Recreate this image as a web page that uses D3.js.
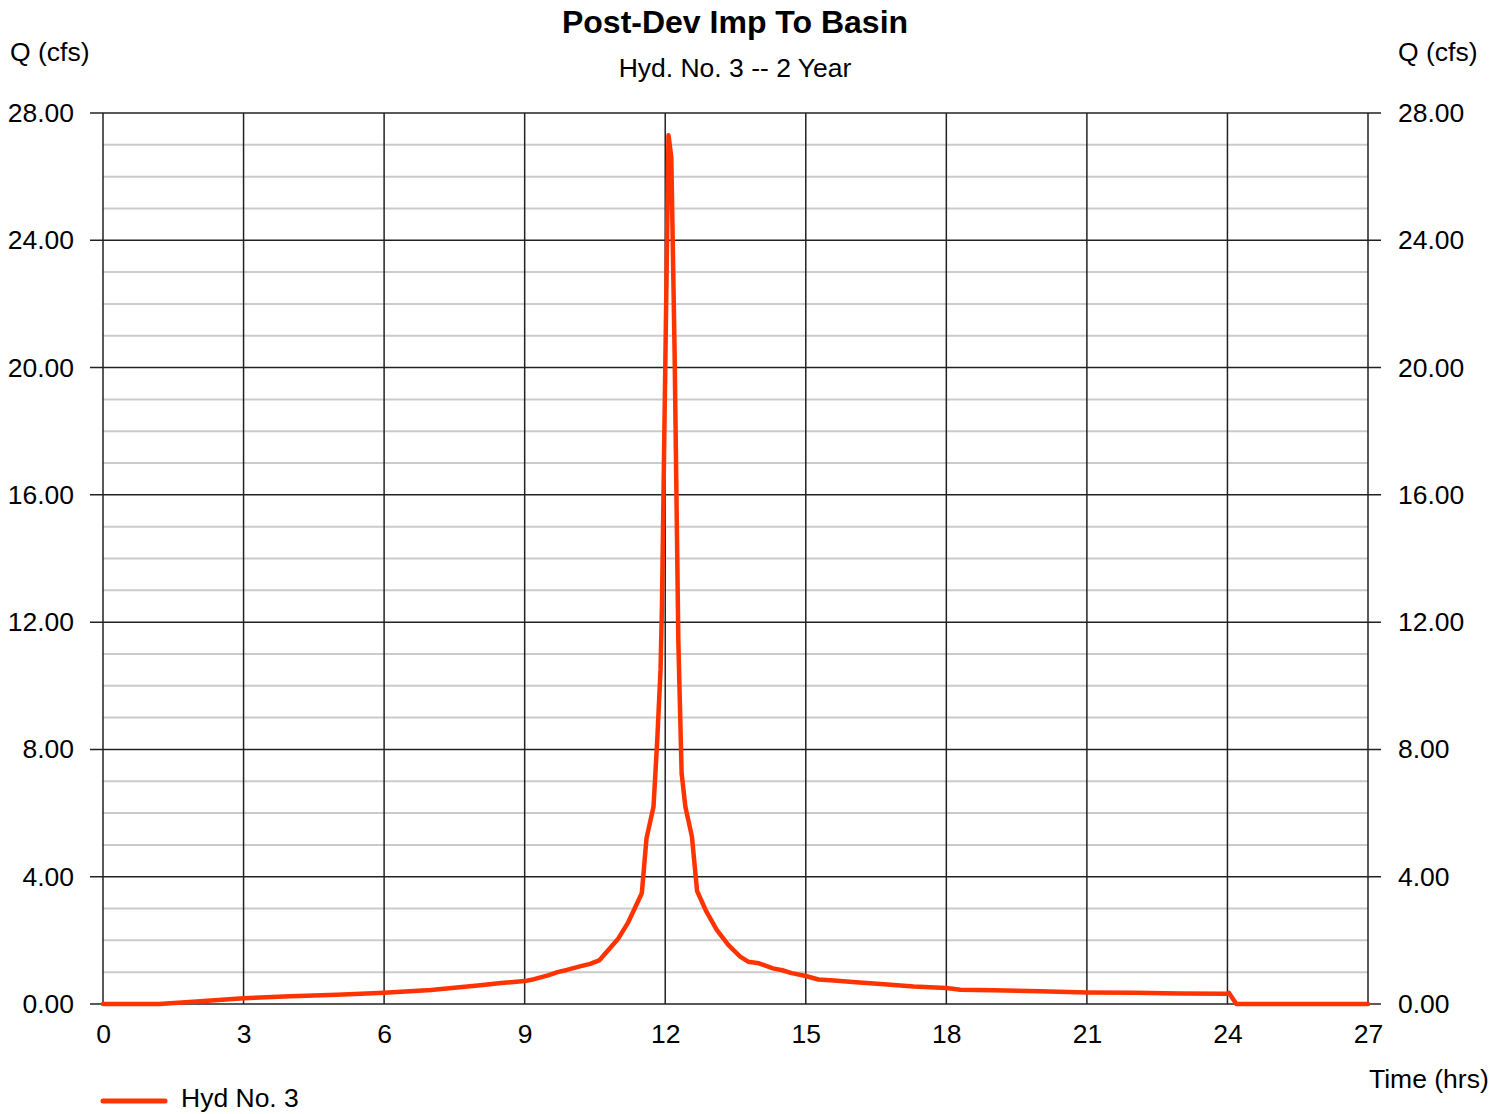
<!DOCTYPE html>
<html>
<head>
<meta charset="utf-8">
<script src="https://cdn.jsdelivr.net/npm/d3@7"></script>
<style>
  html, body { margin: 0; padding: 0; background: #fff; }
  svg { display: block; font-family: "Liberation Sans", Arial, sans-serif; }
</style>
</head>
<body>
<svg id="chart" width="1504" height="1114"></svg>
<script>
// Hydrograph ordinates: time (hrs) and discharge Q (cfs)
const times = [0, 1.2, 2, 3, 4, 5, 6, 7, 8, 8.5, 9, 9.2, 9.5, 9.7, 9.9, 10.2, 10.4, 10.6,
  11.0, 11.2, 11.5, 11.6, 11.75, 11.83, 11.9, 11.93, 12.07, 12.13, 12.2, 12.28, 12.35, 12.43,
  12.57, 12.68, 12.88, 13.1, 13.35, 13.6, 13.77, 14.0, 14.3, 14.5, 14.7, 15.0, 15.27, 15.6,
  16.0, 16.6, 17.3, 18.0, 18.3, 19, 20, 21, 22, 23, 23.98, 24.03, 24.19, 27];
const flows = [0, 0, 0.08, 0.18, 0.24, 0.29, 0.35, 0.44, 0.58, 0.66, 0.72, 0.78, 0.90, 1.00, 1.07, 1.19, 1.26, 1.38,
  2.06, 2.54, 3.48, 5.2, 6.2, 8.3, 10.5, 12.5, 27.3, 26.6, 20.5, 11.4, 7.25, 6.2,
  5.26, 3.55, 2.9, 2.33, 1.85, 1.49, 1.33, 1.28, 1.12, 1.06, 0.97, 0.88, 0.77, 0.74,
  0.69, 0.63, 0.55, 0.50, 0.45, 0.43, 0.40, 0.36, 0.35, 0.33, 0.32, 0.35, 0, 0];

const xTicks = [0, 3, 6, 9, 12, 15, 18, 21, 24, 27];
const yMajorTicks = [0, 4, 8, 12, 16, 20, 24, 28];
const yMinorTicks = d3.range(0, 29);

const titleText = "Post-Dev Imp To Basin";
const subtitleText = "Hyd. No. 3 -- 2 Year";
const yLabel = "Q (cfs)";
const xLabel = "Time (hrs)";
const seriesName = "Hyd No. 3";

const plotLeft = 103, plotRight = 1368, plotTop = 113, plotBottom = 1004;
const lineColor = "#ff3300";
const labelSize = 26.5;

const svg = d3.select("#chart");
const x = d3.scaleLinear().domain([0, 27]).range([plotLeft, plotRight]);
const y = d3.scaleLinear().domain([0, 28]).range([plotBottom, plotTop]);

// Minor horizontal grid (every 1 cfs)
svg.append("g").selectAll("line")
  .data(yMinorTicks.filter(v => v % 4 !== 0))
  .join("line")
  .attr("x1", plotLeft).attr("x2", plotRight)
  .attr("y1", d => y(d)).attr("y2", d => y(d))
  .attr("stroke", "#cbcbcb").attr("stroke-width", 2);

// Major horizontal grid, with ticks out to both sides
svg.append("g").selectAll("line")
  .data(yMajorTicks)
  .join("line")
  .attr("x1", plotLeft - 13).attr("x2", plotRight + 13)
  .attr("y1", d => y(d)).attr("y2", d => y(d))
  .attr("stroke", "#222").attr("stroke-width", 1.5);

// Vertical grid (every 3 hrs)
svg.append("g").selectAll("line")
  .data(xTicks)
  .join("line")
  .attr("x1", d => x(d)).attr("x2", d => x(d))
  .attr("y1", plotTop).attr("y2", plotBottom)
  .attr("stroke", "#222").attr("stroke-width", 1.5);

// Axes built with d3 axis generators, styled as plain text labels
const fmt = d3.format(".2f");
const leftAxis = svg.append("g")
  .attr("transform", `translate(${plotLeft - 29},0)`)
  .call(d3.axisLeft(y).tickValues(yMajorTicks).tickFormat(fmt).tickSize(0).tickPadding(0));
const rightAxis = svg.append("g")
  .attr("transform", `translate(${plotRight + 30},0)`)
  .call(d3.axisRight(y).tickValues(yMajorTicks).tickFormat(fmt).tickSize(0).tickPadding(0));
const bottomAxis = svg.append("g")
  .attr("transform", `translate(0,${plotBottom + 20})`)
  .call(d3.axisBottom(x).tickValues(xTicks).tickFormat(d3.format("d")).tickSize(0).tickPadding(0));

[leftAxis, rightAxis, bottomAxis].forEach(g => {
  g.select(".domain").remove();
  g.selectAll("text")
    .attr("font-family", '"Liberation Sans", Arial, sans-serif')
    .attr("font-size", labelSize)
    .attr("fill", "#000");
});

// Hydrograph line
const line = d3.line()
  .x((d, i) => x(times[i]))
  .y(d => y(d));
svg.append("path")
  .datum(flows)
  .attr("d", line)
  .attr("fill", "none")
  .attr("stroke", lineColor)
  .attr("stroke-width", 4.5)
  .attr("stroke-linejoin", "round")
  .attr("stroke-linecap", "round");

// Titles
svg.append("text")
  .attr("x", 735).attr("y", 33)
  .attr("text-anchor", "middle")
  .attr("font-size", 32).attr("font-weight", "bold")
  .text(titleText);
svg.append("text")
  .attr("x", 735).attr("y", 77)
  .attr("text-anchor", "middle")
  .attr("font-size", labelSize)
  .text(subtitleText);

// Axis titles
svg.append("text").attr("x", 10).attr("y", 61).attr("font-size", labelSize).text(yLabel);
svg.append("text").attr("x", 1398).attr("y", 61).attr("font-size", labelSize).text(yLabel);
svg.append("text").attr("x", 1369).attr("y", 1088).attr("font-size", labelSize).text(xLabel);

// Legend
svg.append("line")
  .attr("x1", 103).attr("x2", 165).attr("y1", 1101).attr("y2", 1101)
  .attr("stroke", lineColor).attr("stroke-width", 5).attr("stroke-linecap", "round");
svg.append("text").attr("x", 181).attr("y", 1107).attr("font-size", labelSize).text(seriesName);
</script>
</body>
</html>
